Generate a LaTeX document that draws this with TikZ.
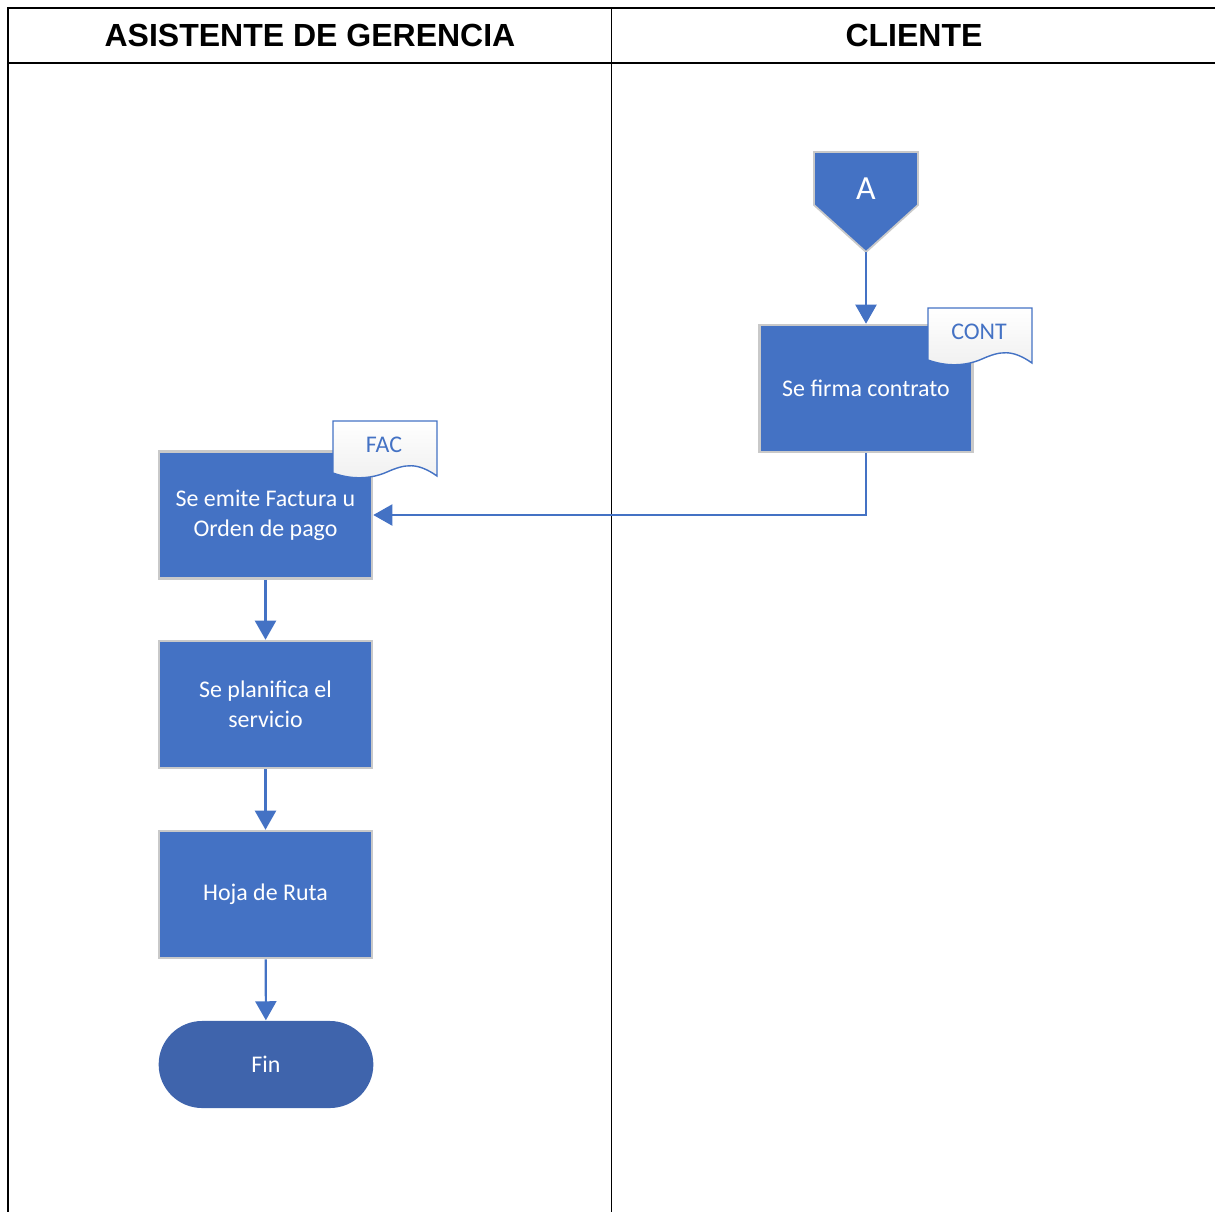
\documentclass[tikz,border=0pt]{standalone}
\usepackage{fontspec}
\setmainfont{Carlito}
\newfontfamily\arial{Liberation Sans}
\usepackage{xcolor}
\usetikzlibrary{arrows.meta,positioning,shapes.misc}
\definecolor{azul}{HTML}{4472C4}
\definecolor{azulfin}{HTML}{3F64AC}
\definecolor{borde}{HTML}{C9C9C9}

\begin{document}
\begin{tikzpicture}[x=0.01cm,y=-0.01cm,
  proceso/.style={rectangle, fill=azul, draw=borde, line width=0.7pt, minimum width=2.13cm, minimum height=1.27cm,
    text=white, align=center, font=\fontsize{6.8}{8.6}\selectfont},
  fin/.style={rounded rectangle, fill=azulfin, minimum width=2.38cm, minimum height=0.87cm,
    text=white, font=\fontsize{6.8}{8}\selectfont},
  flecha/.style={draw=azul, line width=0.6pt, -{Triangle[length=0.19cm,width=0.21cm]}},
  titulo/.style={font=\arial\bfseries\fontsize{9.1}{10}\selectfont}]
  \useasboundingbox (0,0) rectangle (1215,1212);
  % tabla de carriles
  \draw[line width=0.6pt] (8,1212) -- (8,8) -- (1215,8);
  \draw[line width=0.6pt] (8,63) -- (1215,63);
  \draw[line width=0.25pt] (611,8) -- (611,1212);
  \node[titulo] (t1) at (310,35) {ASISTENTE DE GERENCIA};
  \node[titulo] (t2) at (914,35) {CLIENTE};
  % conector A
  \filldraw[fill=azul, draw=borde, line width=0.5pt] (814,152) -- (918,152) -- (918,205) -- (866,252) -- (814,205) -- cycle;
  \node[text=white, font=\fontsize{9.6}{10}\selectfont] (A) at (866,189) {A};
  \coordinate (Apunta) at (866,252);
  % procesos
  \node[proceso] (firma) at (866,388.5) {Se firma contrato};
  \node[proceso] (factura) at (265.5,515) {Se emite Factura u\\Orden de pago};
  \node[proceso] (planifica) at (265.5,704.5) {Se planifica el\\servicio};
  \node[proceso] (hoja) at (265.5,894.5) {Hoja de Ruta};
  \node[fin] (fin) at (266,1064.5) {Fin};
  % documentos
  \foreach \x/\y/\t in {928/308/CONT, 333/421/FAC}{
    \draw[azul, line width=0.4pt, top color=white, bottom color=gray!12]
      (\x,\y) -- ++(104,0) -- ++(0,55)
      .. controls ++(-20,-14) and ++(18,-8) .. ++(-50,-4)
      .. controls ++(-18,8) and ++(16,6) .. ++(-54,1) -- cycle;
    \node[text=azul, font=\fontsize{6.8}{8}\selectfont] (doc\t) at (\x+51,\y+24) {\t};
  }
  % conexiones
  \draw[flecha] (Apunta) -- (firma.north);
  \draw[flecha] (firma.south) |- (factura.east);
  \draw[flecha] (factura) -- (planifica);
  \draw[flecha] (planifica) -- (hoja);
  \draw[flecha] (hoja) -- (fin);
\end{tikzpicture}
\end{document}
